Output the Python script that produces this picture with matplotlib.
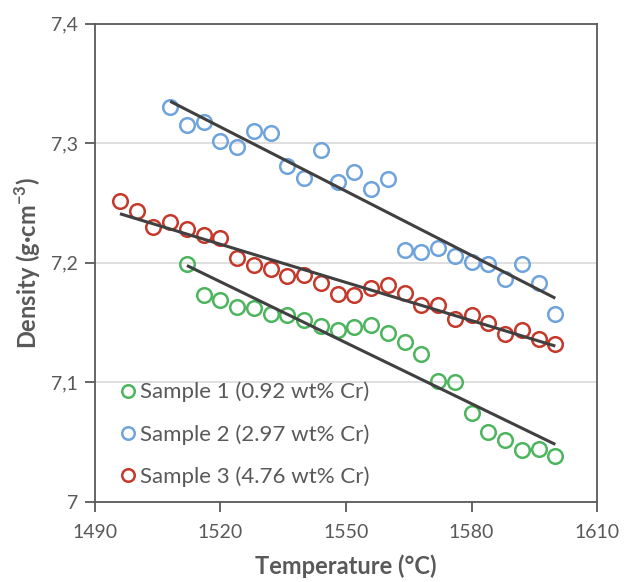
import numpy as np
import matplotlib
matplotlib.use("Agg")
import matplotlib.pyplot as plt
from matplotlib.ticker import FuncFormatter

# temperatures (°C) and densities (g/cm3)
temp_s1 = np.arange(1512, 1601, 4)
dens_s1 = [7.199, 7.173, 7.169, 7.163, 7.162, 7.157, 7.156, 7.152, 7.147, 7.144,
           7.146, 7.148, 7.141, 7.134, 7.124, 7.101, 7.100, 7.074, 7.058, 7.052,
           7.043, 7.044, 7.038]

temp_s2 = np.arange(1508, 1601, 4)
dens_s2 = [7.330, 7.315, 7.318, 7.302, 7.297, 7.310, 7.309, 7.281, 7.271, 7.294,
           7.268, 7.276, 7.262, 7.270, 7.211, 7.209, 7.212, 7.206, 7.201, 7.199,
           7.186, 7.199, 7.183, 7.157]

temp_s3 = np.arange(1496, 1601, 4)
dens_s3 = [7.252, 7.243, 7.230, 7.234, 7.228, 7.223, 7.221, 7.204, 7.198, 7.195,
           7.189, 7.190, 7.183, 7.174, 7.173, 7.179, 7.181, 7.175, 7.165, 7.165,
           7.153, 7.156, 7.150, 7.140, 7.144, 7.136, 7.132]

labels = ["Sample 1 (0.92 wt% Cr)", "Sample 2 (2.97 wt% Cr)", "Sample 3 (4.76 wt% Cr)"]
colors = ["#4DB55E", "#6FA3DC", "#C5392B"]

plt.rcParams['font.family'] = ['Lato', 'DejaVu Sans']
plt.rcParams['mathtext.fontset'] = 'custom'
plt.rcParams['mathtext.rm'] = 'Lato'
plt.rcParams['mathtext.bf'] = 'Lato:bold'

fig = plt.figure(figsize=(6.24, 5.82), dpi=100)
ax = fig.add_axes([0.152, 0.138, 0.805, 0.821])

series = [(temp_s1, dens_s1), (temp_s2, dens_s2), (temp_s3, dens_s3)]
for (t, d), lab, c in zip(series, labels, colors):
    ax.plot(t, d, linestyle='none', marker='o', markersize=10.5,
            markerfacecolor='none', markeredgecolor=c, markeredgewidth=1.8,
            label=lab, zorder=3)
# linear trend lines
for t, d in series:
    k, b = np.polyfit(t, d, 1)
    ax.plot([t[0], t[-1]], [k * t[0] + b, k * t[-1] + b], color='#404040',
            linewidth=2.2, solid_capstyle='butt', zorder=4)

ax.set_xlim(1490, 1610)
ax.set_ylim(7.0, 7.4)
ax.set_xticks([1490, 1520, 1550, 1580, 1610])
ax.set_yticks([7.0, 7.1, 7.2, 7.3, 7.4])
ax.yaxis.set_major_formatter(FuncFormatter(lambda v, p: f"{v:g}".replace('.', ',')))
ax.grid(axis='y', color='#D9D9D9', linewidth=1.2)
ax.set_axisbelow(True)

for s in ax.spines.values():
    s.set_color('#595959')
    s.set_linewidth(1.3)
ax.tick_params(axis='both', direction='out', length=7, width=1.3, color='#595959',
               labelsize=14, labelcolor='#595959', pad=5)
ax.tick_params(axis='x', pad=9)

ax.set_xlabel('Temperature (°C)', fontsize=17, fontweight='bold', color='#595959', labelpad=10)
ax.set_ylabel('Density (g·cm$^{\\mathbf{-3}}$)', fontsize=17, fontweight='bold',
              color='#595959', labelpad=6)

leg = ax.legend(loc='lower left', bbox_to_anchor=(0.035, 0.012), frameon=False,
                fontsize=16, handlelength=0.6, handletextpad=0.25, labelspacing=0.98,
                borderaxespad=0)
for txt in leg.get_texts():
    txt.set_color('#595959')
for h in leg.legend_handles:
    h.set_markersize(9)

fig.savefig("out.png", dpi=100)
